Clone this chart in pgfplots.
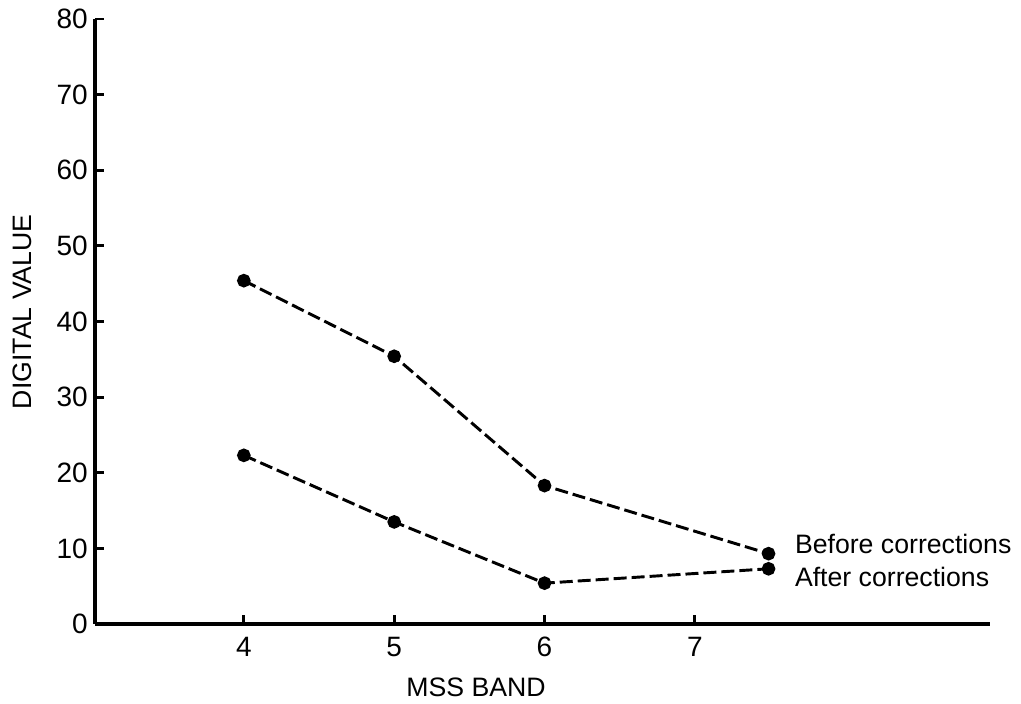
\documentclass[border=0pt]{standalone}
\usepackage{fontspec}
\setmainfont{Liberation Sans}
\usepackage{pgfplots}
\pgfplotsset{compat=1.18}
\begin{document}
\begin{tikzpicture}
\fontsize{20pt}{24pt}\selectfont
\begin{axis}[
  scale only axis,
  width=671.25pt, height=453.75pt,
  xmin=3.01, xmax=8.963,
  ymin=0, ymax=80,
  axis x line=bottom, axis y line=left,
  axis line style={-, line width=2.4pt, black},
  xtick={4,5,6,7},
  ytick={0,10,...,80},
  xtick align=inside, ytick align=inside,
  major tick length=6.5pt,
  major tick style={black, line width=2.2pt},
  /pgf/number format/assume math mode=true,
  tick label style={font=\fontsize{21pt}{24pt}\selectfont, inner sep=0pt},
  x tick label style={yshift=-9.75pt},
  y tick label style={xshift=-5.25pt},
  xlabel={MSS BAND},
  ylabel={DIGITAL VALUE},
  label style={font=\fontsize{20pt}{24pt}\selectfont},
  xlabel style={at={(axis description cs:0.4257,0)}, anchor=center, yshift=-47.25pt},
  ylabel style={at={(axis description cs:-0.0816,0.516)}, anchor=center},
  clip=false,
]
\coordinate (SW) at (rel axis cs:0,0);
\coordinate (NE) at (rel axis cs:1,1);
\addplot[black, line width=2.2pt, dash pattern=on 9.75pt off 3.75pt,
  mark=*, mark size=4pt, mark options={solid, fill=black}]
  coordinates {(4,45.4) (5,35.4) (6,18.3) (7.49,9.3)}
  node[pos=1, anchor=west, inner sep=0pt, xshift=18.75pt, yshift=7.5pt] {Before corrections};
\addplot[black, line width=2.2pt, dash pattern=on 9.75pt off 3.75pt,
  mark=*, mark size=4pt, mark options={solid, fill=black}]
  coordinates {(4,22.3) (5,13.5) (6,5.4) (7.49,7.3)}
  node[pos=1, anchor=west, inner sep=0pt, xshift=18.75pt, yshift=-6pt] {After corrections};
\end{axis}
\pgfresetboundingbox
\path[use as bounding box] ([xshift=-71.25pt,yshift=-60pt]SW) rectangle ([xshift=23.25pt,yshift=14.25pt]NE);
\end{tikzpicture}
\end{document}
